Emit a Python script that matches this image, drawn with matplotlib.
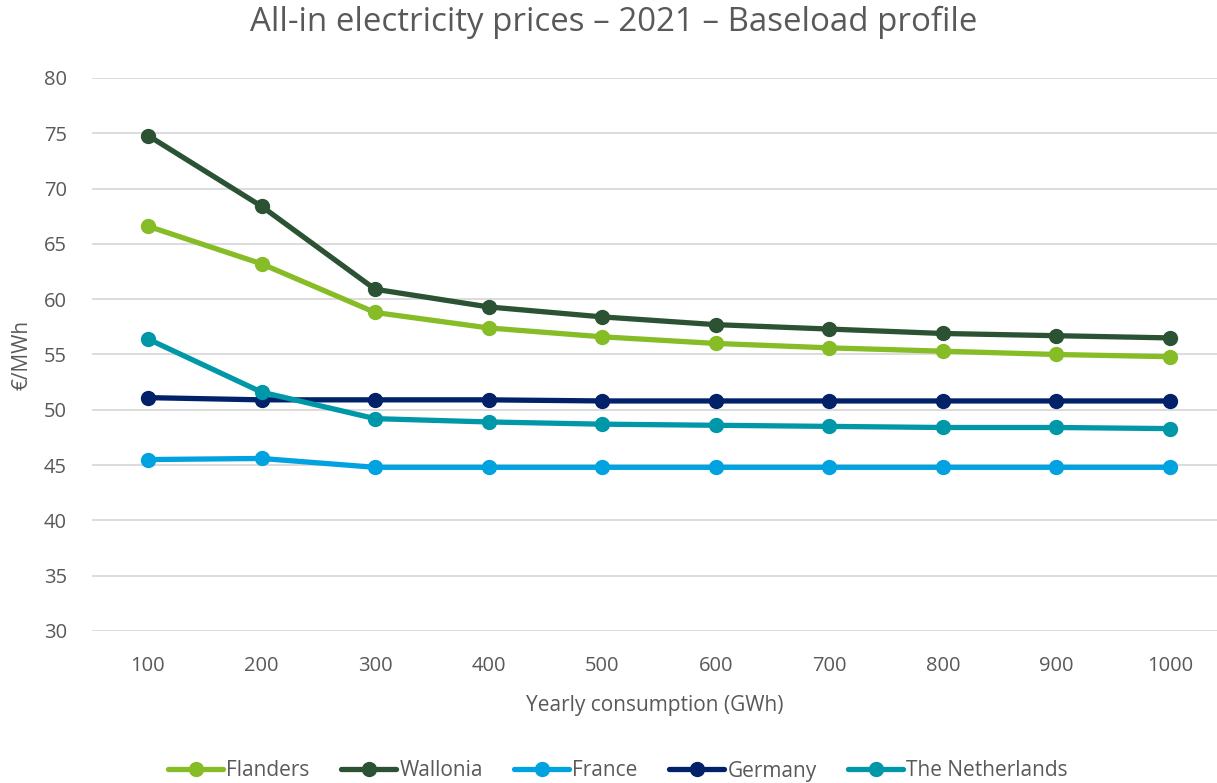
import numpy as np
import matplotlib
matplotlib.use("Agg")
import matplotlib.pyplot as plt

plt.rcParams['font.family'] = ['Open Sans', 'DejaVu Sans']

consumption = [100, 200, 300, 400, 500, 600, 700, 800, 900, 1000]
flanders = [66.6, 63.2, 58.8, 57.4, 56.6, 56.0, 55.6, 55.3, 55.0, 54.8]
wallonia = [74.8, 68.4, 60.9, 59.3, 58.4, 57.7, 57.3, 56.9, 56.7, 56.5]
france = [45.5, 45.6, 44.8, 44.8, 44.8, 44.8, 44.8, 44.8, 44.8, 44.8]
germany = [51.1, 50.9, 50.9, 50.9, 50.8, 50.8, 50.8, 50.8, 50.8, 50.8]
netherlands = [56.4, 51.6, 49.2, 48.9, 48.7, 48.6, 48.5, 48.4, 48.4, 48.3]

series = [
    ("Flanders", flanders, "#86BC25"),
    ("Wallonia", wallonia, "#2C5234"),
    ("France", france, "#00A3E0"),
    ("Germany", germany, "#012169"),
    ("The Netherlands", netherlands, "#0097A9"),
]

text_color = "#595959"

fig = plt.figure(figsize=(12.17, 7.83), dpi=100)
ax = fig.add_axes([92 / 1217, 1 - 631 / 783, (1217 - 92) / 1217, (631 - 78) / 783])

x = np.arange(len(consumption))
for name, vals, col in series:
    ax.plot(x, vals, color=col, lw=3.8, marker="o", markersize=10,
            label=name, solid_capstyle="round")

ax.set_xlim(-0.493, 9.414)
ax.set_ylim(30, 80)
ax.set_yticks(np.arange(30, 81, 5))
ax.set_xticks(x)
ax.set_xticklabels([str(c) for c in consumption])
ax.grid(axis="y", color="#d9d9d9", lw=1.3)
ax.set_axisbelow(True)
for s in ax.spines.values():
    s.set_visible(False)
ax.tick_params(length=0, labelsize=14.5, colors=text_color)
ax.tick_params(axis="x", pad=18)
ax.tick_params(axis="y", pad=18)

ax.set_xlabel("Yearly consumption (GWh)", fontsize=15, color=text_color, labelpad=14)
fig.text(22 / 1217, 1 - 355 / 783, "€/MWh", rotation=90, fontsize=15,
         color=text_color, ha="center", va="center")
fig.text(614 / 1217, 1 - 22 / 783, "All-in electricity prices – 2021 – Baseload profile",
         fontsize=23.8, color=text_color, ha="center", va="center")

leg = fig.legend(loc="center", bbox_to_anchor=(618 / 1217, 1 - 771 / 783), ncol=5,
                 frameon=False, fontsize=15, handlelength=2.65, handletextpad=0.15,
                 columnspacing=1.5)
for t in leg.get_texts():
    t.set_color(text_color)

fig.savefig("out.png", dpi=100)
